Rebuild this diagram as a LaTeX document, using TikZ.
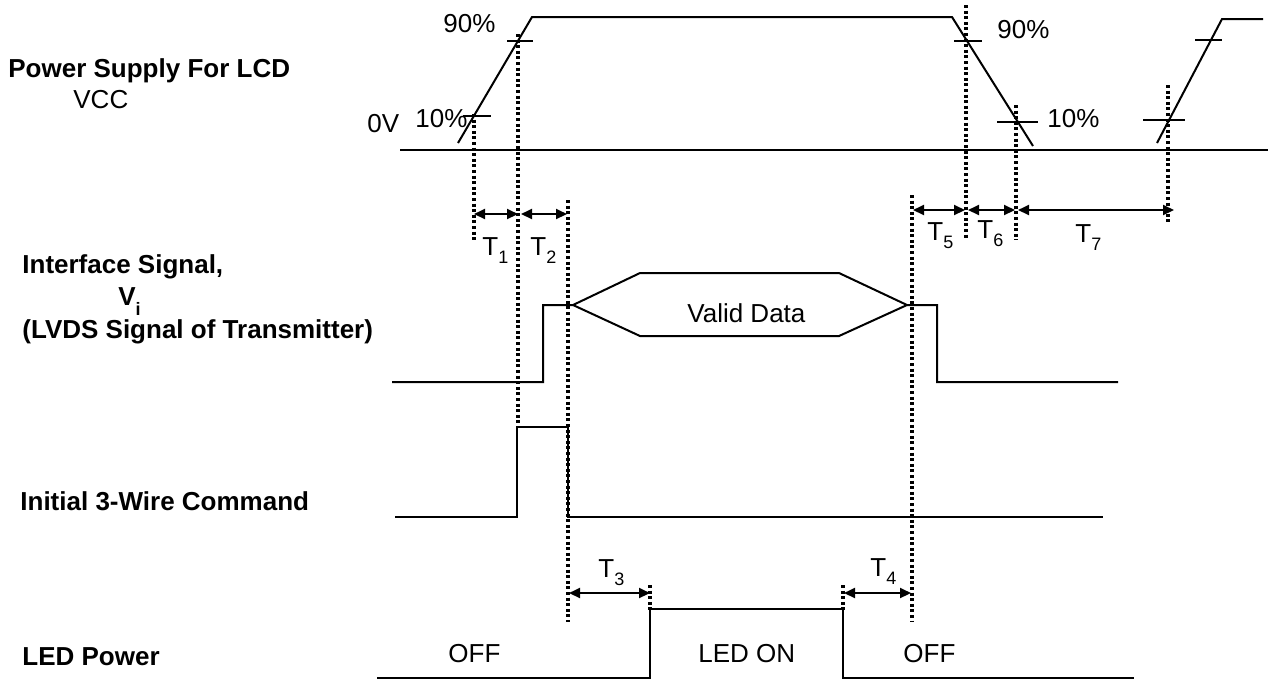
\documentclass[tikz,border=0pt]{standalone}
\usepackage{fontspec}
\setmainfont{Liberation Sans}
\usetikzlibrary{arrows.meta}
\newcommand{\sbs}[2][4pt]{\raisebox{-#1}{\fontsize{9}{9}\selectfont #2}}
\begin{document}
\begin{tikzpicture}[x=0.5pt,y=-0.5pt,
  wave/.style={line width=1pt, line join=miter},
  dots/.style={line width=1.8pt, dash pattern=on 1.5pt off 1.3pt},
  dim/.style={line width=1pt, {Triangle[length=5.5pt,width=5pt]}-{Triangle[length=5.5pt,width=5pt]}},
  lbl/.style={anchor=base west, inner sep=0pt, font=\fontsize{13}{15}\selectfont},
  blbl/.style={anchor=base west, inner sep=0pt, font=\fontsize{13}{15}\selectfont\bfseries}]
\useasboundingbox (0,0) rectangle (1268,682);

% ---- left labels
\node[blbl] (psl) at (8,77) {Power Supply For LCD};
\node[lbl] (vcc) at (73,108) {VCC};
\node[blbl] (ifs) at (22,273) {Interface Signal,};
\node[blbl] (vi) at (118,305) {V\sbs[5pt]{i}};
\node[blbl] (lvds) at (22,338) {(LVDS Signal of Transmitter)};
\node[blbl] (cmd) at (20,510) {Initial 3-Wire Command};
\node[blbl] (led) at (22,665) {LED Power};

% ---- VCC waveform
\draw[wave] (400,150) -- (1268,150);
\draw[wave] (458,143) -- (532,17) -- (952,17) -- (1033,146);
\draw[wave] (1157,143) -- (1222,19) -- (1263,19);
% ticks
\draw[wave] (507,41) -- (533,41);
\draw[wave] (463,116) -- (491,116);
\draw[wave] (954,41) -- (982,41);
\draw[wave] (997,122) -- (1038,122);
\draw[wave] (1195,40) -- (1222,40);
\draw[wave] (1143,120) -- (1185,120);
% VCC texts
\node[lbl] (p90a) at (443,32) {90\%};
\node[lbl] (p10a) at (415,127) {10\%};
\node[lbl] (zv) at (367,132) {0V};
\node[lbl] (p90b) at (997,38) {90\%};
\node[lbl] (p10b) at (1047,127) {10\%};

% ---- Interface signal
\draw[wave] (392,382) -- (543,382) -- (543,305) -- (573,305) -- (640,273) -- (839,273) -- (907,305) -- (937,305) -- (937,382) -- (1118,382);
\draw[wave] (573,305) -- (640,336) -- (839,336) -- (907,305);
\node[lbl] (vd) at (687,322) {Valid Data};

% ---- Initial 3-wire command
\draw[wave] (395,517) -- (517,517) -- (517,427) -- (568,427) -- (568,517) -- (1103,517);

% ---- LED power
\draw[wave] (377,678) -- (650,678) -- (650,609) -- (843,609) -- (843,678) -- (1134,678);
\node[lbl] (off1) at (448,662) {OFF};
\node[lbl] (ledon) at (698,662) {LED ON};
\node[lbl] (off2) at (903,662) {OFF};

% ---- dotted guide lines
\draw[dots] (474,114) -- (474,242);
\draw[dots] (518,34) -- (518,425);
\draw[dots] (568,200) -- (568,622);
\draw[dots] (650,585) -- (650,610);
\draw[dots] (843,585) -- (843,610);
\draw[dots] (912,195) -- (912,622);
\draw[dots] (966,5) -- (966,240);
\draw[dots] (1016,105) -- (1016,240);
\draw[dots] (1168,85) -- (1168,222);

% ---- dimension arrows
\coordinate (a1) at (474,214); \coordinate (a2) at (518,214);
\coordinate (a3) at (521,214); \coordinate (a4) at (567,214);
\coordinate (b1) at (913,210); \coordinate (b2) at (965,210);
\coordinate (b3) at (968,210); \coordinate (b4) at (1015,210);
\coordinate (b5) at (1018,210); \coordinate (b6) at (1174,210);
\coordinate (c1) at (569,593); \coordinate (c2) at (650,593);
\coordinate (c3) at (844,593); \coordinate (c4) at (911,593);
\draw[dim] (a1) -- (a2);
\draw[dim] (a3) -- (a4);
\draw[dim] (b1) -- (b2);
\draw[dim] (b3) -- (b4);
\draw[dim] (b5) -- (b6);
\draw[dim] (c1) -- (c2);
\draw[dim] (c3) -- (c4);

\node[lbl] (t1) at (482,255) {T\sbs{1}};
\node[lbl] (t2) at (530,255) {T\sbs{2}};
\node[lbl] (t3) at (598,577) {T\sbs{3}};
\node[lbl] (t4) at (870,576) {T\sbs{4}};
\node[lbl] (t5) at (927,240) {T\sbs{5}};
\node[lbl] (t6) at (977,238) {T\sbs{6}};
\node[lbl] (t7) at (1075,242) {T\sbs{7}};
\end{tikzpicture}
\end{document}
